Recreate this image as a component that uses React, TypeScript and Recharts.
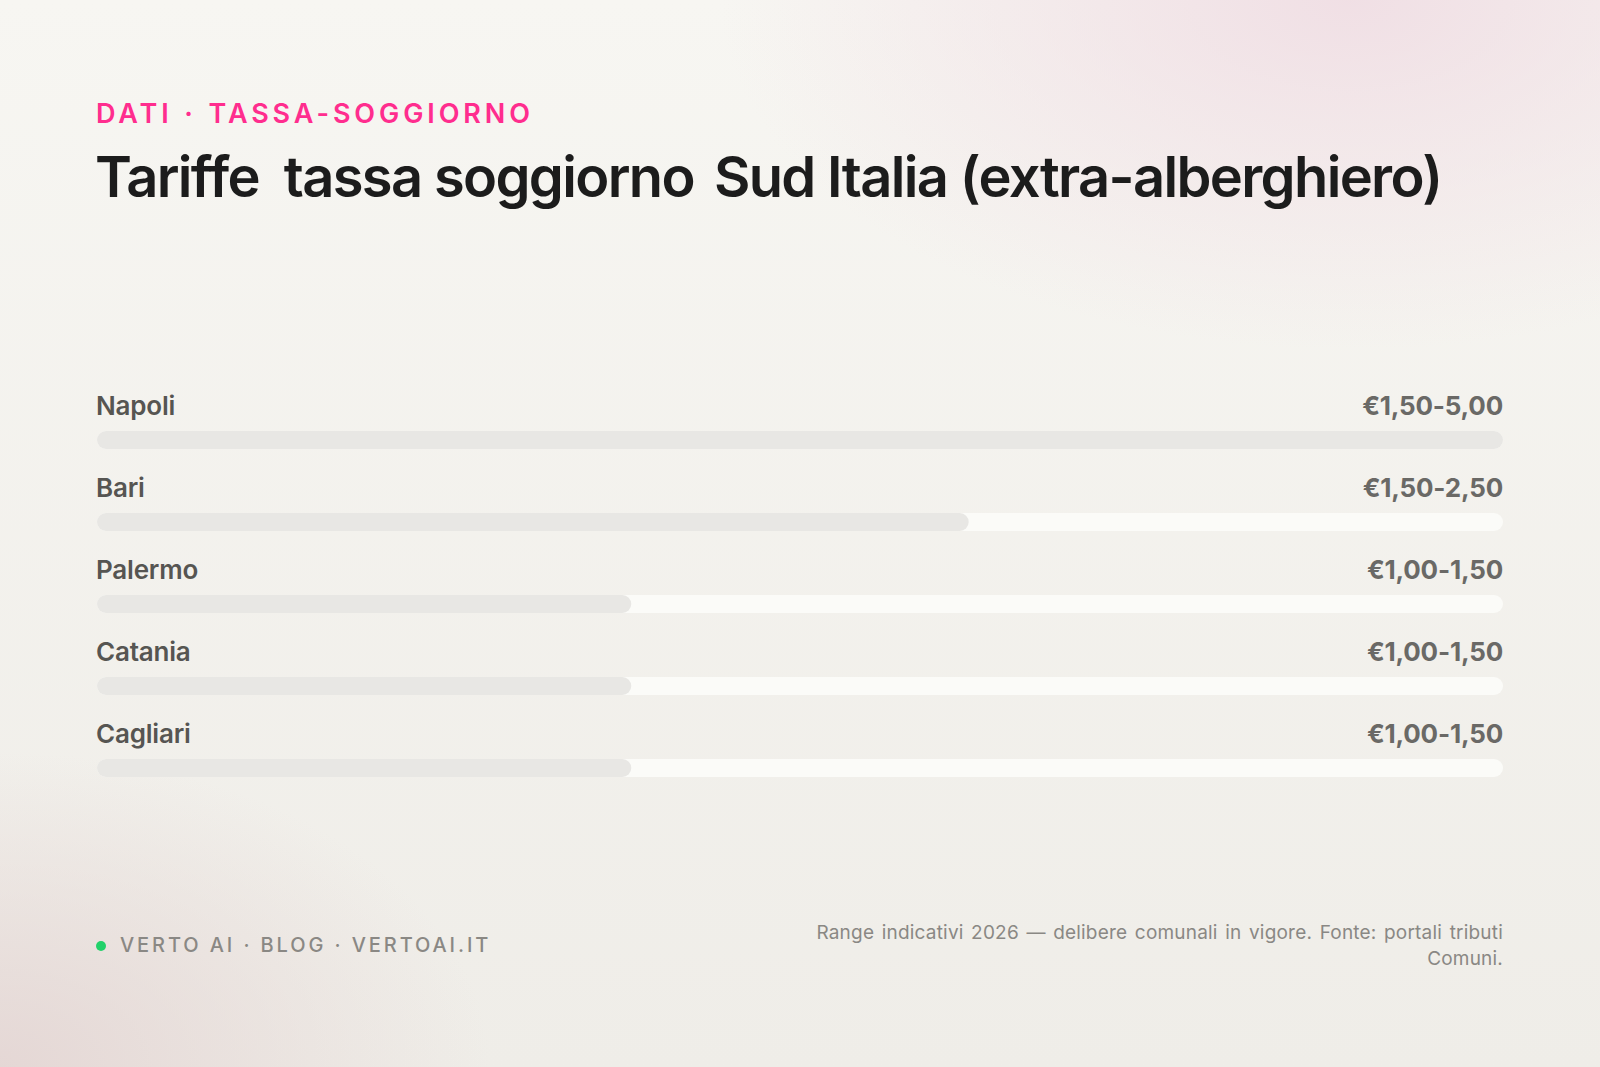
import React from 'react';
import { BarChart, Bar, XAxis, YAxis, LabelList } from 'recharts';

const cities = ['Napoli', 'Bari', 'Palermo', 'Catania', 'Cagliari'];
const rangeLabels = ['€1,50-5,00', '€1,50-2,50', '€1,00-1,50', '€1,00-1,50', '€1,00-1,50'];
const barPercent = [100, 62, 38, 38, 38];

const data = cities.map((name, i) => ({ name, value: barPercent[i], range: rangeLabels[i] }));

const FONT = 'Inter, "Noto Sans", sans-serif';
const PLOT_LEFT = 97;
const PLOT_RIGHT = 1503;

const NameLabel = (props: any) => {
  const { x, y, value } = props;
  return (
    <text x={x - 1} y={y - 16} fill="#565552" fontFamily={FONT} fontSize={26} fontWeight={600} letterSpacing={-0.2}>
      {value}
    </text>
  );
};

const RangeLabel = (props: any) => {
  const { y, value, viewBox } = props;
  return (
    <text x={PLOT_RIGHT} y={(viewBox?.y ?? y) - 16} textAnchor="end" fill="#6a6966" fontFamily={FONT} fontSize={26} fontWeight={700} letterSpacing={-0.2}>
      {value}
    </text>
  );
};

export default function App() {
  return (
    <div
      style={{
        position: 'absolute',
        left: 0,
        top: 0,
        width: 1600,
        height: 1067,
        overflow: 'hidden',
        background:
          'radial-gradient(ellipse 900px 500px at 1350px 0px, rgba(240,222,228,0.95), rgba(240,222,228,0) 70%), radial-gradient(ellipse 700px 450px at 0px 1067px, rgba(228,214,212,0.95), rgba(228,214,212,0) 70%), linear-gradient(180deg, #f7f6f2 0%, #efede8 100%)',
        fontFamily: FONT,
      }}
    >
      <div
        style={{
          position: 'absolute',
          left: 96,
          top: 97,
          fontSize: 27,
          fontWeight: 600,
          letterSpacing: 3.9,
          wordSpacing: 1,
          color: '#ff2d8e',
          whiteSpace: 'pre',
        }}
      >
        DATI · TASSA-SOGGIORNO
      </div>
      <div
        style={{
          position: 'absolute',
          left: 95,
          top: 143,
          fontSize: 56,
          fontWeight: 600,
          letterSpacing: -1.65,
          color: '#1c1c1c',
          whiteSpace: 'pre',
        }}
      >
        {'Tariffe  tassa soggiorno\u2009 Sud Italia (extra-alberghiero)'}
      </div>

      <div style={{ position: 'absolute', left: 0, top: 0 }}>
        <BarChart
          width={1600}
          height={1067}
          data={data}
          layout="vertical"
          margin={{ top: 399, bottom: 258, left: PLOT_LEFT, right: 1600 - PLOT_RIGHT }}
          barSize={18}
        >
          <XAxis type="number" domain={[0, 100]} hide />
          <YAxis type="category" dataKey="name" hide />
          <Bar
            dataKey="value"
            fill="#e8e7e4"
            radius={9}
            background={{ fill: '#fbfbf8', radius: 9 } as any}
            isAnimationActive={false}
          >
            <LabelList dataKey="name" content={<NameLabel />} />
            <LabelList dataKey="range" content={<RangeLabel />} />
          </Bar>
        </BarChart>
      </div>

      <div
        style={{
          position: 'absolute',
          left: 96,
          top: 941,
          width: 10,
          height: 10,
          borderRadius: 5,
          background: '#22d16a',
        }}
      />
      <div
        style={{
          position: 'absolute',
          left: 120,
          top: 933,
          fontSize: 20,
          fontWeight: 500,
          letterSpacing: 2.9,
          color: '#8a8884',
          whiteSpace: 'pre',
        }}
      >
        VERTO AI · BLOG · VERTOAI.IT
      </div>
      <div
        style={{
          position: 'absolute',
          right: 97,
          top: 920,
          width: 710,
          textAlign: 'right',
          fontSize: 19,
          lineHeight: '26px',
          letterSpacing: 0.2,
          wordSpacing: 2,
          color: '#8a8884',
        }}
      >
        Range indicativi 2026 — delibere comunali in vigore. Fonte: portali tributi Comuni.
      </div>
    </div>
  );
}
